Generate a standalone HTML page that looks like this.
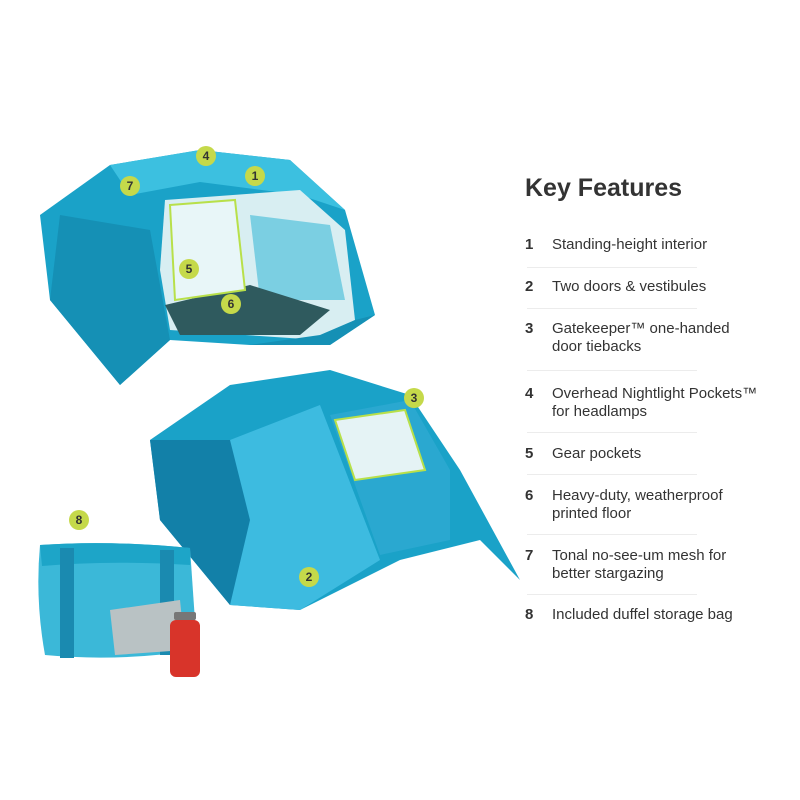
<!DOCTYPE html>
<html><head><meta charset="utf-8"><style>
html,body{margin:0;padding:0;background:#fff;}
body{width:800px;height:800px;position:relative;overflow:hidden;font-family:"Liberation Sans",sans-serif;color:#333;}
svg{position:absolute;left:0;top:0;}
.t{position:absolute;left:525px;top:174px;font-size:25px;font-weight:bold;color:#333;}
.it{position:absolute;left:525px;width:175px;font-size:15px;line-height:18px;}
.it b{position:absolute;left:0;top:0;}
.it span{position:absolute;left:27px;top:0;white-space:nowrap;}
.ln{position:absolute;left:527px;width:170px;height:1px;background:#ececec;}
</style></head><body>
<svg width="800" height="800" viewBox="0 0 800 800">
<!-- top tent -->
<polygon points="40,215 110,165 200,150 290,160 345,210 375,315 330,345 250,345 170,340 120,385 50,300" fill="#1aa2c8"/>
<polygon points="110,165 200,150 290,160 345,210 300,195 200,182 130,195" fill="#3cc0e0"/>
<polygon points="165,200 300,190 345,230 355,320 320,340 170,330 160,270" fill="#d8eef2"/>
<polygon points="250,215 330,225 345,300 260,300" fill="#7bcfe2"/>
<polygon points="165,305 250,285 330,310 300,335 180,335" fill="#2f5a5e"/>
<polygon points="170,205 235,200 245,290 175,300" fill="#e8f6f8" stroke="#b8e04a" stroke-width="2"/>
<polygon points="50,300 120,385 170,340 150,230 60,215" fill="#1590b5"/>
<polygon points="250,345 330,345 375,315 355,320 320,335" fill="#1590b5"/>
<!-- bottom tent -->
<polygon points="150,440 230,385 330,370 410,395 460,470 520,580 480,540 400,560 300,610 230,605 160,520" fill="#1aa2c8"/>
<polygon points="230,440 320,405 380,560 300,610 230,605" fill="#3dbbe0"/>
<polygon points="330,415 410,400 450,470 450,540 380,555" fill="#2aa8d0"/>
<polygon points="335,420 405,410 425,470 355,480" fill="#e5f3f5" stroke="#b8e04a" stroke-width="2"/>
<polygon points="150,440 230,440 250,520 230,605 160,520" fill="#1280a8"/>
<!-- duffel -->
<path d="M40,545 Q110,540 190,548 L197,650 Q120,662 45,655 Q35,600 40,545Z" fill="#3bb8d8"/>
<path d="M40,545 Q110,540 190,548 L190,565 Q110,560 42,566Z" fill="#1da5c8"/>
<rect x="60" y="548" width="14" height="110" fill="#1a8ab0"/>
<rect x="160" y="550" width="14" height="105" fill="#1a8ab0"/>
<polygon points="110,610 180,600 185,650 115,655" fill="#b9c2c4"/>
<!-- bottle -->
<rect x="174" y="612" width="22" height="8" rx="2" fill="#777"/>
<rect x="170" y="620" width="30" height="57" rx="6" fill="#d8342a"/>
<!-- badges -->
<g font-family="Liberation Sans,sans-serif" font-size="12" font-weight="bold" fill="#333" text-anchor="middle">
<circle cx="206" cy="156" r="10" fill="#c5d94a"/><text x="206" y="160">4</text>
<circle cx="255" cy="176" r="10" fill="#c5d94a"/><text x="255" y="180">1</text>
<circle cx="130" cy="186" r="10" fill="#c5d94a"/><text x="130" y="190">7</text>
<circle cx="189" cy="269" r="10" fill="#c5d94a"/><text x="189" y="273">5</text>
<circle cx="231" cy="304" r="10" fill="#c5d94a"/><text x="231" y="308">6</text>
<circle cx="414" cy="398" r="10" fill="#c5d94a"/><text x="414" y="402">3</text>
<circle cx="79" cy="520" r="10" fill="#c5d94a"/><text x="79" y="524">8</text>
<circle cx="309" cy="577" r="10" fill="#c5d94a"/><text x="309" y="581">2</text>
</g>
</svg>
<div class="t">Key Features</div>
<div class="it" style="top:236px"><b>1</b><span>Standing-height interior</span></div>
<div class="ln" style="top:267px"></div>
<div class="it" style="top:278px"><b>2</b><span>Two doors &amp; vestibules</span></div>
<div class="ln" style="top:308px"></div>
<div class="it" style="top:320px"><b>3</b><span>Gatekeeper™ one-handed<br>door tiebacks</span></div>
<div class="ln" style="top:370px"></div>
<div class="it" style="top:385px"><b>4</b><span>Overhead Nightlight Pockets™<br>for headlamps</span></div>
<div class="ln" style="top:432px"></div>
<div class="it" style="top:445px"><b>5</b><span>Gear pockets</span></div>
<div class="ln" style="top:474px"></div>
<div class="it" style="top:487px"><b>6</b><span>Heavy-duty, weatherproof<br>printed floor</span></div>
<div class="ln" style="top:534px"></div>
<div class="it" style="top:547px"><b>7</b><span>Tonal no-see-um mesh for<br>better stargazing</span></div>
<div class="ln" style="top:594px"></div>
<div class="it" style="top:606px"><b>8</b><span>Included duffel storage bag</span></div>
</body></html>
